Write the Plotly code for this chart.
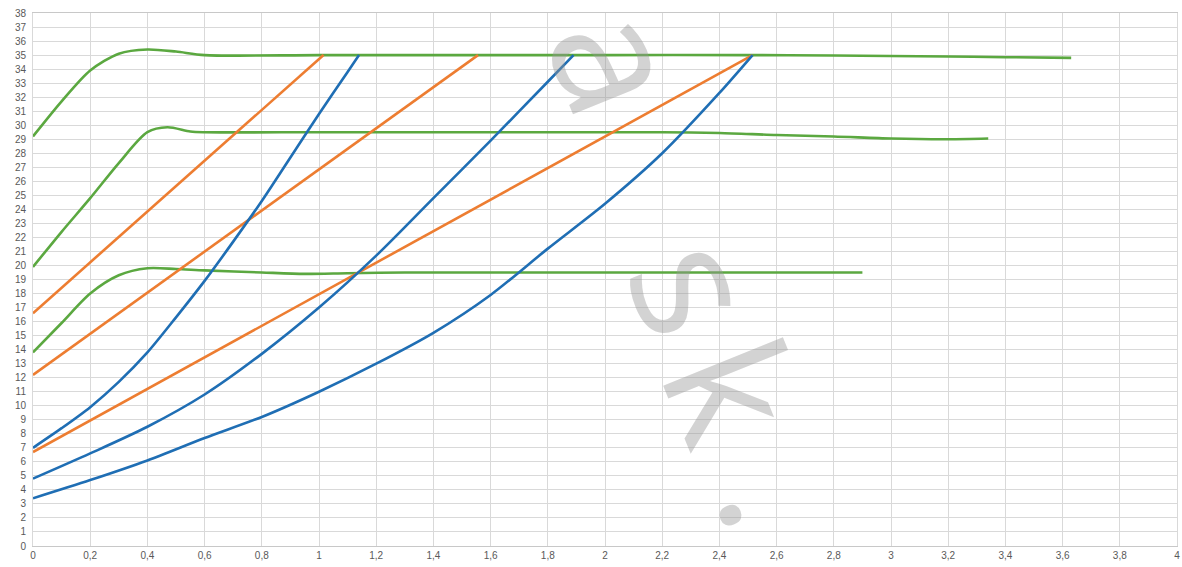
import plotly.graph_objects as go

# ---- data ----
g1_x = [0, 0.1, 0.2, 0.3, 0.4, 0.5, 0.6, 1.0, 1.5, 2.0, 2.5, 2.8, 3.2, 3.4, 3.63]
g1_y = [29.2, 31.7, 33.9, 35.1, 35.4, 35.25, 35.0, 35.0, 35.0, 35.0, 35.0, 34.97, 34.9, 34.85, 34.8]

g2_x = [0, 0.1, 0.2, 0.3, 0.4, 0.47, 0.55, 0.6, 1.0, 1.5, 2.0, 2.2, 2.4, 2.6, 2.8, 3.0, 3.2, 3.34]
g2_y = [19.9, 22.4, 24.8, 27.3, 29.5, 29.85, 29.55, 29.5, 29.5, 29.5, 29.5, 29.5, 29.45, 29.3, 29.2, 29.05, 29.0, 29.05]

g3_x = [0, 0.1, 0.2, 0.3, 0.4, 0.5, 0.6, 0.8, 0.95, 1.1, 1.3, 1.6, 2.0, 2.5, 2.9]
g3_y = [13.8, 15.9, 18.0, 19.3, 19.8, 19.75, 19.65, 19.5, 19.4, 19.45, 19.5, 19.5, 19.5, 19.5, 19.5]

o1_x = [0, 1.016]
o1_y = [16.6, 35.0]
o2_x = [0, 1.556]
o2_y = [12.2, 35.0]
o3_x = [0, 2.516]
o3_y = [6.7, 35.0]

b1_x = [0, 0.1, 0.2, 0.3, 0.4, 0.5, 0.6, 0.7, 0.8, 0.9, 1.0, 1.1, 1.14]
b1_y = [7.0, 8.4, 9.9, 11.7, 13.8, 16.3, 18.9, 21.7, 24.6, 27.7, 30.8, 33.8, 35.0]

b2_x = [0, 0.2, 0.4, 0.6, 0.8, 1.0, 1.2, 1.4, 1.6, 1.8, 1.89]
b2_y = [4.8, 6.6, 8.5, 10.8, 13.7, 17.0, 20.7, 24.8, 28.9, 33.1, 35.0]

b3_x = [0, 0.2, 0.4, 0.6, 0.8, 1.0, 1.2, 1.4, 1.6, 1.8, 2.0, 2.2, 2.4, 2.516]
b3_y = [3.4, 4.7, 6.1, 7.7, 9.2, 11.0, 13.0, 15.2, 17.9, 21.2, 24.4, 28.0, 32.3, 35.0]

x_ticks = [round(i * 0.2, 1) for i in range(21)]
x_labels = [("%g" % v).replace(".", ",") for v in x_ticks]
y_ticks = list(range(0, 39))
y_labels = [str(v) for v in y_ticks]

GREEN = "#5BA840"
ORANGE = "#ED7D31"
BLUE = "#1F6EB4"

fig = go.Figure()

def add(x, y, color, smooth=True):
    fig.add_trace(go.Scatter(
        x=x, y=y, mode="lines",
        line=dict(color=color, width=2.6, shape="spline" if smooth else "linear",
                  smoothing=0.8 if smooth else None),
        showlegend=False, hoverinfo="skip"))

add(g1_x, g1_y, GREEN)
add(g2_x, g2_y, GREEN)
add(g3_x, g3_y, GREEN)
add(o1_x, o1_y, ORANGE, False)
add(o2_x, o2_y, ORANGE, False)
add(o3_x, o3_y, ORANGE, False)
add(b1_x, b1_y, BLUE)
add(b2_x, b2_y, BLUE)
add(b3_x, b3_y, BLUE)

# watermark glyphs
wm = [("a", 2.058, 34.8), ("s", 2.33, 18.6), ("k", 2.457, 11.2), (".", 2.625, 3.7)]
for t, xx, yy in wm:
    fig.add_annotation(x=xx, y=yy, xref="x", yref="y", text=t, showarrow=False,
                       textangle=68, font=dict(family="Open Sans", size=170,
                                               color="rgba(150,150,150,0.42)"))

grid = "#D9D9D9"
fig.update_xaxes(range=[0, 4], tickmode="array", tickvals=x_ticks, ticktext=x_labels,
                 showgrid=True, gridcolor=grid, gridwidth=1, zeroline=False,
                 showline=True, linecolor="#C8C8C8", mirror=True, ticks="",
                 automargin=False, ticklabeloverflow="allow",
                 tickfont=dict(family="Liberation Sans", size=10, color="#595959"))
fig.update_yaxes(range=[0, 38], tickmode="array", tickvals=y_ticks, ticktext=y_labels,
                 showgrid=True, gridcolor=grid, gridwidth=1, zeroline=False,
                 showline=True, linecolor="#D9D9D9", mirror=True, ticks="",
                 ticklabelstandoff=4, automargin=False, ticklabeloverflow="allow",
                 tickfont=dict(family="Liberation Sans", size=10, color="#595959"))

fig.update_layout(width=1182, height=567, paper_bgcolor="white", plot_bgcolor="white",
                  separators=", ", hovermode=False,
                  margin=dict(l=33, r=5, t=13, b=21, autoexpand=False))

fig.write_html("out.html", config={"displayModeBar": False, "staticPlot": True},
               post_script="document.body.style.margin='0';document.body.style.overflow='hidden';")
